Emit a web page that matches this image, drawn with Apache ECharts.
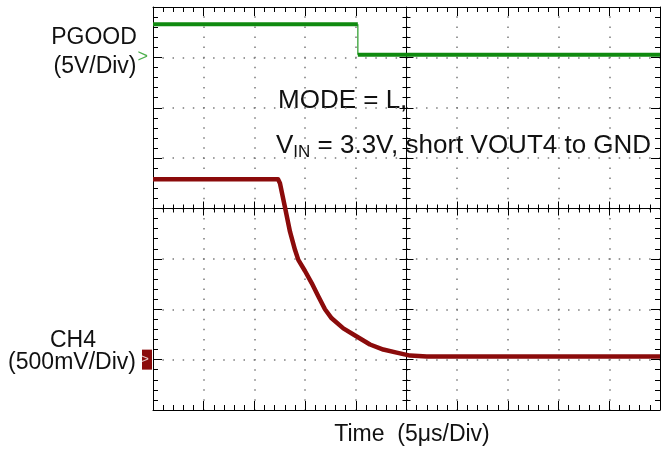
<!DOCTYPE html>
<html><head><meta charset="utf-8">
<script src="https://cdn.jsdelivr.net/npm/echarts@6/dist/echarts.min.js"></script>
<style>html,body{margin:0;padding:0;background:#fff}#c{width:662px;height:455px}</style>
</head><body><div id="c"></div>
<script>
// time axis in microseconds (5 us/div, 10 div)
const pgoodTime = [0, 20.2, 20.2, 50];
const pgoodVolt = [3.3, 3.3, 0.25, 0.25];          // PGOOD, 5 V/div
const ch4Time = [0, 12.33, 12.52, 13.02, 13.51, 14.0, 14.33, 14.99, 15.65, 16.3, 16.96, 17.62, 18.77, 20.09, 21.4, 22.71, 24.03, 25.35, 27, 50];
const ch4Volt = [1.79, 1.79, 1.75, 1.51, 1.27, 1.09, 0.99, 0.88, 0.76, 0.63, 0.5, 0.41, 0.31, 0.23, 0.15, 0.10, 0.07, 0.04, 0.03, 0.03]; // 500 mV/div
const labelPgood = ['PGOOD', '(5V/Div)'];
const labelCh4 = ['CH4', '(500mV/Div)'];
const noteLine1 = 'MODE = L,';
const noteLine2 = ['V', 'IN', ' = 3.3V, short VOUT4 to GND'];
const xTitle = 'Time  (5\u03bcs/Div)';

const FONT = '"Liberation Sans", Arial, sans-serif';
const GREEN = '#0f8a0f', RED = '#8b0b0b';
const pts = (t, v, a, b) => t.slice(a, b).map((x, i) => [x, v[a + i]]);

const dotX = {color: '#7a7a7a', width: 1.5, type: [1.5, 8.58], dashOffset: 0.75};
const dotY = {color: '#7a7a7a', width: 1.5, type: [1.5, 8.64], dashOffset: 0.75};
const blk = {color: '#000', width: 1};
function edgeAxis(extra) {
  return Object.assign({
    type: 'value', axisLabel: {show: false},
    axisLine: {show: true, onZero: false, lineStyle: blk},
    axisTick: {show: true, inside: true, length: 9, lineStyle: blk},
    minorTick: {show: true, splitNumber: 5, length: 5, lineStyle: blk},
    splitLine: {show: false}, minorSplitLine: {show: false}
  }, extra);
}

const chart = echarts.init(document.getElementById('c'), null, {renderer: 'canvas'});
chart.setOption({
  animation: false,
  backgroundColor: '#fff',
  grid: {left: 153, top: 7, width: 507, height: 403, containLabel: false},
  xAxis: [
    edgeAxis({min: 0, max: 50, interval: 5, position: 'bottom',
      splitLine: {show: true, showMinLine: false, showMaxLine: false, lineStyle: dotX}}),
    edgeAxis({min: 0, max: 50, interval: 5, position: 'top'}),
    edgeAxis({min: 0, max: 50, interval: 5, position: 'bottom', offset: -201.5,
      axisTick: {show: true, inside: true, length: 7, lineStyle: blk},
      minorTick: {show: true, splitNumber: 5, length: 4, lineStyle: blk}}),
    edgeAxis({min: 0, max: 50, interval: 5, position: 'bottom', offset: -201.5,
      axisLine: {show: false},
      axisTick: {show: true, inside: false, length: 7, lineStyle: blk},
      minorTick: {show: true, splitNumber: 5, length: 4, lineStyle: blk}})
  ],
  yAxis: [
    edgeAxis({min: -35, max: 5, interval: 5, position: 'left',
      splitLine: {show: true, showMinLine: false, showMaxLine: false, lineStyle: dotY}}),
    edgeAxis({min: -0.5, max: 3.5, interval: 0.5, position: 'right'}),
    edgeAxis({min: 0, max: 8, interval: 1, position: 'left', offset: -253.5,
      axisTick: {show: true, inside: true, length: 7, lineStyle: blk},
      minorTick: {show: true, splitNumber: 5, length: 4, lineStyle: blk}}),
    edgeAxis({min: 0, max: 8, interval: 1, position: 'left', offset: -253.5,
      axisLine: {show: false},
      axisTick: {show: true, inside: false, length: 7, lineStyle: blk},
      minorTick: {show: true, splitNumber: 5, length: 4, lineStyle: blk}})
  ],
  series: [
    {type: 'line', xAxisIndex: 0, yAxisIndex: 0, data: pts(pgoodTime, pgoodVolt, 0, 2),
      showSymbol: false, lineStyle: {color: GREEN, width: 4}, z: 5},
    {type: 'line', xAxisIndex: 0, yAxisIndex: 0, data: pts(pgoodTime, pgoodVolt, 1, 3),
      showSymbol: false, lineStyle: {color: '#4fae4f', width: 1.5}, z: 4},
    {type: 'line', xAxisIndex: 0, yAxisIndex: 0, data: pts(pgoodTime, pgoodVolt, 2, 4),
      showSymbol: false, lineStyle: {color: GREEN, width: 4}, z: 5},
    {type: 'line', xAxisIndex: 0, yAxisIndex: 1, data: pts(ch4Time, ch4Volt, 0, ch4Time.length),
      showSymbol: false, lineStyle: {color: RED, width: 4.5, join: 'round'}, z: 5},
    // ground markers
    {type: 'scatter', xAxisIndex: 0, yAxisIndex: 0, data: [[0, 0]], clip: false, silent: true,
      symbol: 'rect', symbolSize: 0.1, itemStyle: {color: 'rgba(0,0,0,0)'},
      label: {show: true, position: 'left', distance: 5, formatter: '>', color: '#1f9a1f',
        fontFamily: FONT, fontSize: 18}, z: 6},
    {type: 'scatter', xAxisIndex: 0, yAxisIndex: 1, data: [[0, 0]], clip: false, silent: true,
      symbol: 'rect', symbolSize: [10, 20], symbolOffset: [-6, 0],
      itemStyle: {color: RED, opacity: 1}, emphasis: {disabled: true}, z: 6},
    {type: 'scatter', xAxisIndex: 0, yAxisIndex: 1, data: [[0, 0]], clip: false, silent: true,
      symbol: 'rect', symbolSize: 0.1, itemStyle: {color: 'rgba(0,0,0,0)'},
      label: {show: true, position: 'left', distance: 4, formatter: '>', color: '#fff',
        fontFamily: FONT, fontSize: 13}, z: 7}
  ],
  graphic: [
    {type: 'text', x: 94, y: 38, style: {text: labelPgood[0], font: '23px ' + FONT, fill: '#111', align: 'center', verticalAlign: 'middle'}},
    {type: 'text', x: 95, y: 67, style: {text: labelPgood[1], font: '23px ' + FONT, fill: '#111', align: 'center', verticalAlign: 'middle'}},
    {type: 'text', x: 73, y: 341, style: {text: labelCh4[0], font: '23px ' + FONT, fill: '#111', align: 'center', verticalAlign: 'middle'}},
    {type: 'text', x: 72, y: 363, style: {text: labelCh4[1], font: '23px ' + FONT, fill: '#111', align: 'center', verticalAlign: 'middle'}},
    {type: 'text', x: 278, y: 101, style: {text: noteLine1, font: '26px ' + FONT, fill: '#111', align: 'left', verticalAlign: 'middle'}},
    {type: 'text', x: 276, y: 146, style: {
      text: '{v|' + noteLine2[0] + '}{s|' + noteLine2[1] + '}{v|' + noteLine2[2] + '}',
      align: 'left', verticalAlign: 'middle', fill: '#111',
      rich: {v: {fontFamily: FONT, fontSize: 26, fill: '#111'},
             s: {fontFamily: FONT, fontSize: 17, fill: '#111', padding: [12, 0, 0, 0]}}}},
    {type: 'text', x: 412, y: 435, style: {text: xTitle, font: '23px ' + FONT, fill: '#111', align: 'center', verticalAlign: 'middle'}}
  ]
});
</script></body></html>
